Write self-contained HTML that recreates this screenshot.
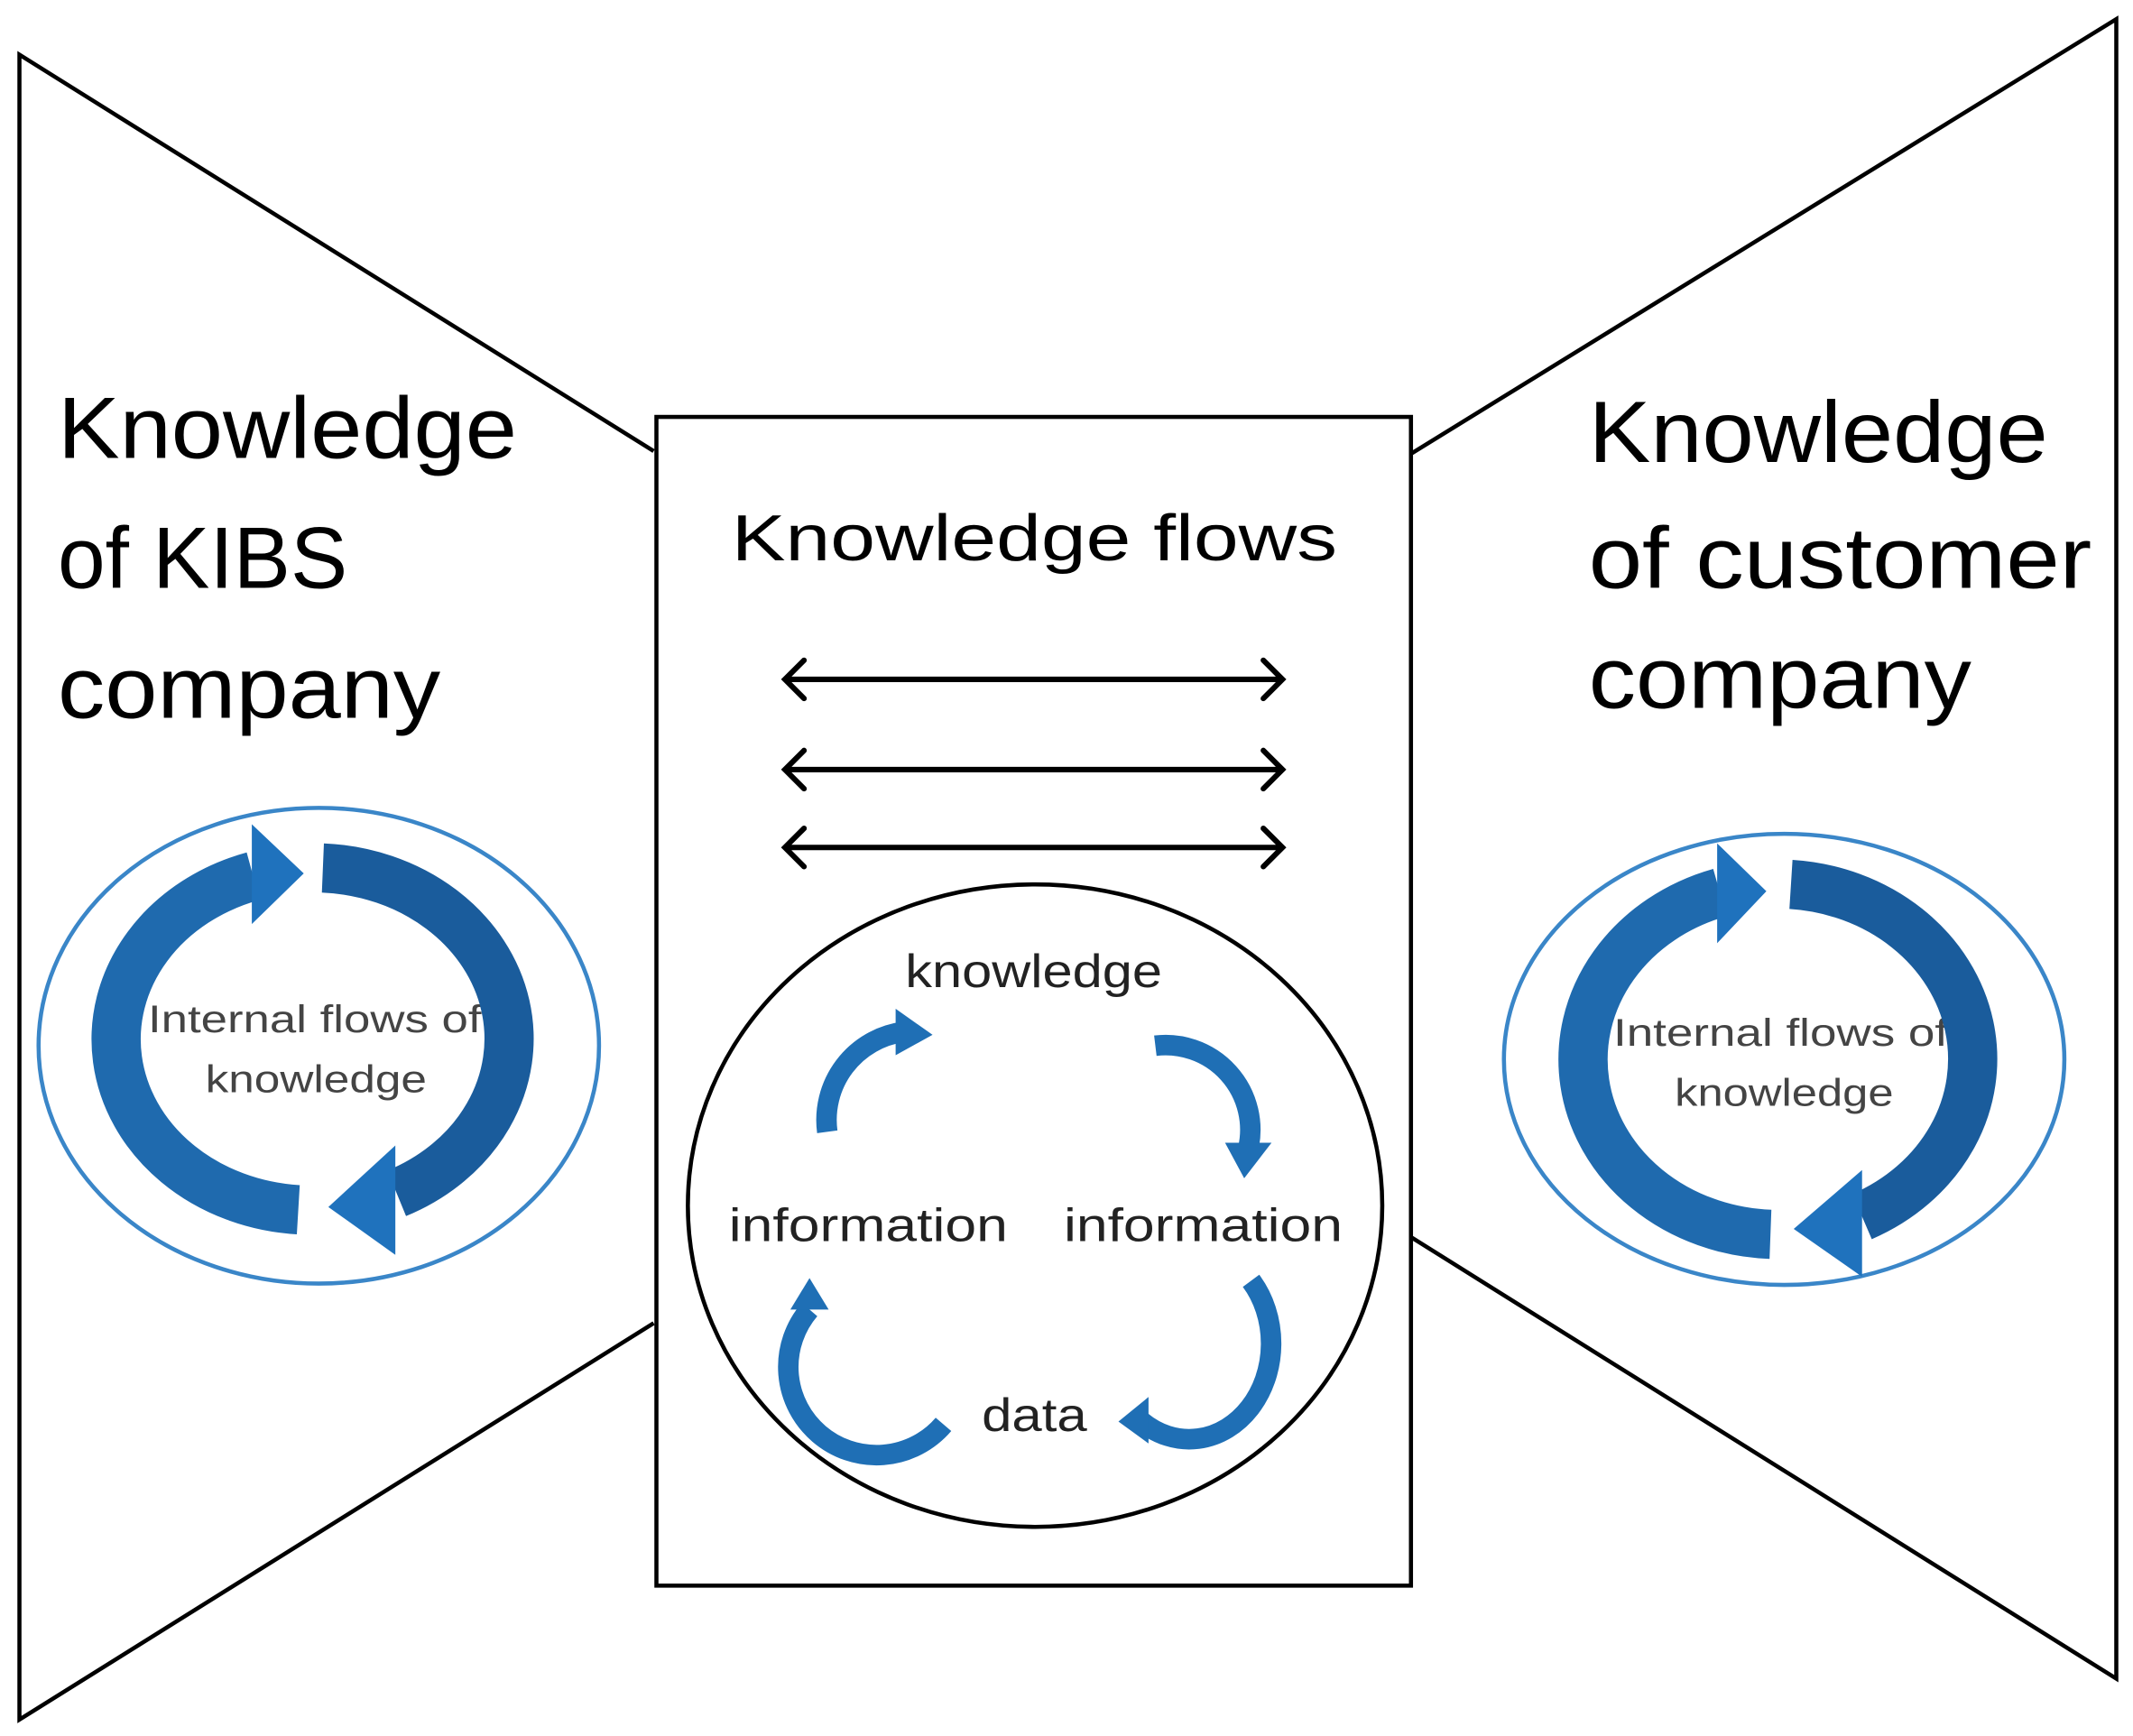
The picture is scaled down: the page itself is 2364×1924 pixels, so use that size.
<!DOCTYPE html>
<html><head><meta charset="utf-8"><style>html,body{margin:0;padding:0;background:#fff}svg{display:block}</style></head>
<body>
<svg width="2364" height="1924" viewBox="0 0 1560 1270" xmlns="http://www.w3.org/2000/svg" font-family="Liberation Sans, sans-serif">
<g stroke="#000" stroke-width="3" fill="none">
<path d="M478,330 L14,40 L14,1258 L478,968"/>
<path d="M1032,332 L1548,14 L1548,1228 L1032,905"/>
<rect x="480" y="305" width="552" height="855"/>
<ellipse cx="757" cy="882" rx="254" ry="235"/>
</g>
<g stroke="#000" stroke-width="4" fill="none" stroke-linecap="round">
<path d="M574,497 H938 M588,483 L574,497 L588,511 M924,483 L938,497 L924,511"/>
<path d="M574,563 H938 M588,549 L574,563 L588,577 M924,549 L938,563 L924,577"/>
<path d="M574,620 H938 M588,606 L574,620 L588,634 M924,606 L938,620 L924,634"/>
</g>
<g fill="#000" font-size="64" lengthAdjust="spacingAndGlyphs">
<text x="42" y="335" textLength="336" lengthAdjust="spacingAndGlyphs">Knowledge</text>
<text x="42" y="430" textLength="212" lengthAdjust="spacingAndGlyphs">of KIBS</text>
<text x="42" y="525" textLength="280" lengthAdjust="spacingAndGlyphs">company</text>
<text x="1162" y="338" textLength="336" lengthAdjust="spacingAndGlyphs">Knowledge</text>
<text x="1162" y="430" textLength="368" lengthAdjust="spacingAndGlyphs">of customer</text>
<text x="1162" y="518" textLength="280" lengthAdjust="spacingAndGlyphs">company</text>
</g>
<text x="535" y="410" font-size="48" textLength="443" lengthAdjust="spacingAndGlyphs">Knowledge flows</text>
<g font-size="34" fill="#222">
<text x="662" y="722" textLength="188" lengthAdjust="spacingAndGlyphs">knowledge</text>
<text x="533" y="908" textLength="204" lengthAdjust="spacingAndGlyphs">information</text>
<text x="778" y="908" textLength="204" lengthAdjust="spacingAndGlyphs">information</text>
<text x="718" y="1047" textLength="77" lengthAdjust="spacingAndGlyphs">data</text>
</g>
<g fill="#444" font-size="28">
<text x="108" y="755" textLength="244" lengthAdjust="spacingAndGlyphs">Internal flows of</text>
<text x="150" y="799" textLength="162" lengthAdjust="spacingAndGlyphs">knowledge</text>
<text x="1180" y="765" textLength="245" lengthAdjust="spacingAndGlyphs">Internal flows of</text>
<text x="1225" y="809" textLength="160" lengthAdjust="spacingAndGlyphs">knowledge</text>
</g>
<!-- left cycle -->
<ellipse cx="233" cy="765" rx="205" ry="174" fill="none" stroke="#3a86c8" stroke-width="3"/>
<g fill="none" stroke-width="36">
<path d="M218,885 A143,125 0 0 1 185,641" stroke="#1f6aae"/>
<path d="M236,635 A143,125 0 0 1 290,873" stroke="#1a5c9c"/>
</g>
<path d="M184,603 L222,639 L184,676 Z" fill="#1f72bd"/>
<path d="M289,838 L240,883 L289,918 Z" fill="#1f72bd"/>
<!-- right cycle -->
<ellipse cx="1305" cy="775" rx="205" ry="165" fill="none" stroke="#3a86c8" stroke-width="3"/>
<g fill="none" stroke-width="36">
<path d="M1295,903 A143,128 0 0 1 1258,653" stroke="#1f6aae"/>
<path d="M1310,647 A143,128 0 0 1 1362,890" stroke="#1a5c9c"/>
</g>
<path d="M1256,617 L1292,652 L1256,690 Z" fill="#1f72bd"/>
<path d="M1362,856 L1312,899 L1362,934 Z" fill="#1f72bd"/>
<!-- inner cycle -->
<g fill="none" stroke="#1f6fb5" stroke-width="15">
<path d="M605,828 A65,65 0 0 1 660,755"/>
<path d="M845,765 A62,62 0 0 1 913,840"/>
<path d="M915,937 A60,70 0 0 1 835,1040"/>
<path d="M690,1042 A62,62 0 0 1 592,958"/>
</g>
<g fill="#1f6fb5">
<path d="M655,738 L682,757 L655,772 Z"/>
<path d="M896,836 L930,836 L910,862 Z"/>
<path d="M840,1022 L818,1040 L840,1056 Z"/>
<path d="M578,958 L606,958 L592,935 Z"/>
</g>
</svg>
</body></html>
